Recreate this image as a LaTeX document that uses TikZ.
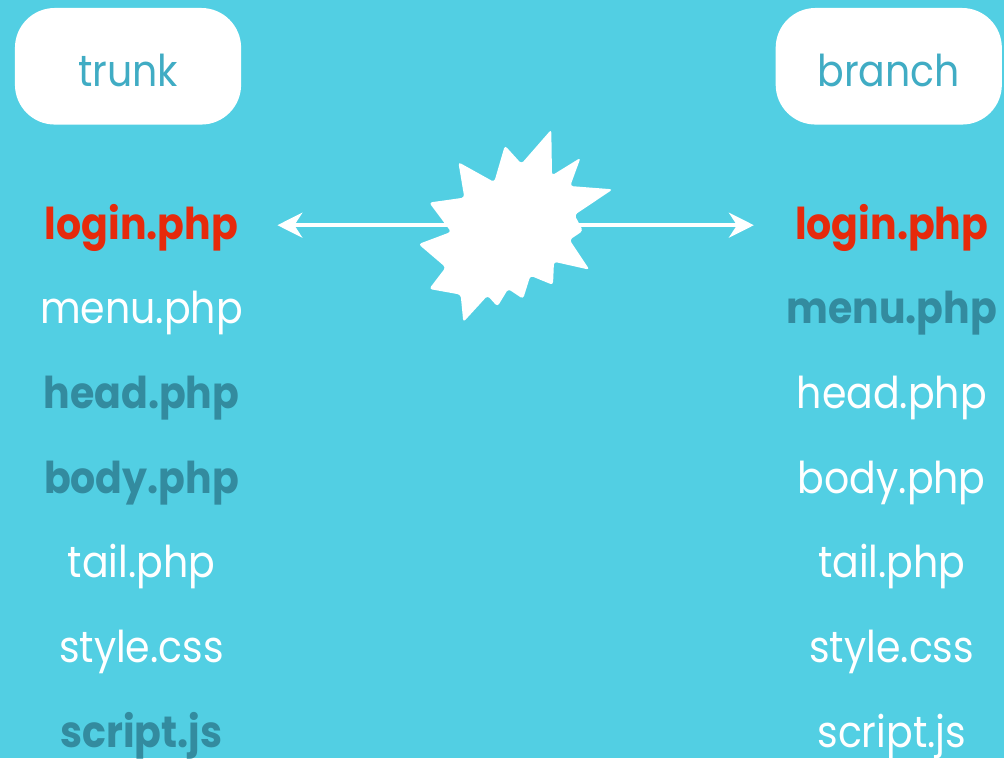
\documentclass[tikz,border=0pt]{standalone}
\usepackage{fontspec}
\setmainfont{Poppins}[FakeStretch=0.9]
\usepackage{tikz}
\usetikzlibrary{arrows.meta}
\usetikzlibrary{matrix}
\definecolor{bg}{RGB}{82,207,227}
\definecolor{hot}{RGB}{230,42,12}
\definecolor{dteal}{RGB}{51,139,159}
\definecolor{lteal}{RGB}{64,172,196}
\newcommand\fsz{\fontsize{22pt}{26pt}\selectfont}
\tikzstyle{tag}=[fill=white,rounded corners=20pt,minimum width=113.5pt,minimum height=58.5pt,inner sep=0pt,
  text=lteal,font=\fsz,text height=20pt,text depth=0pt]
\tikzstyle{fl} =[text=white,font=\fsz,text width=110pt,align=center,text height=20pt,text depth=6pt,inner sep=0pt]
\tikzstyle{flr}=[fl,text=hot,font=\fsz\bfseries]
\tikzstyle{fld}=[fl,text=dteal,font=\fsz\bfseries]
\tikzstyle{rwhead}=[>/.tip={Stealth[length=12.5pt,width=12.5pt,inset=4pt]}]
\tikzstyle{rw}=[line width=2pt,white,rwhead,<->]
\begin{document}
\begin{tikzpicture}[x=.5pt,y=-.5pt]
	\fill[bg] (0,0) rectangle (1008,761);
	\node[tag] (trunk)  at (128.5,66.5) {trunk};
	\node[tag] (branch) at (892,66.5)   {branch};
	\matrix (m) at (518.5,481) [matrix of nodes,nodes={fl},column sep=266.5pt,row sep=16.5pt] {
	  |[flr]| login.php  & |[flr]| login.php \\
	  menu.php           & |[fld]| menu.php  \\
	  |[fld]| head.php   & head.php          \\
	  |[fld]| body.php   & body.php          \\
	  tail.php           & tail.php          \\
	  style.css          & style.css         \\
	  |[fld]| script.js  & script.js         \\
	};
	\draw[rw] ([xshift=13pt]m-1-1.east) -- ([xshift=-14pt]m-1-2.west);
	% conflict burst
	\fill[white,rounded corners=1.5pt] (460,162.7) -- (496,182.7) -- (506.7,146) -- (523.3,164.3)
	  -- (553.3,130) -- (554,176) -- (582.7,158.3) -- (572.3,186.7) -- (615,190) -- (576.7,215.7)
	  -- (585,231.7) -- (571.7,240.7) -- (591.7,270.7) -- (556,262.7) -- (555,286) -- (532.3,276.7)
	  -- (525,300) -- (510,290) -- (499.3,307.7) -- (489.3,296.7) -- (465,323.3) -- (462.3,295.7)
	  -- (430.7,290) -- (447.3,268.3) -- (420,245) -- (452.7,232.7) -- (430.7,203.3) -- (466,198.3) -- cycle;
\end{tikzpicture}
\end{document}
